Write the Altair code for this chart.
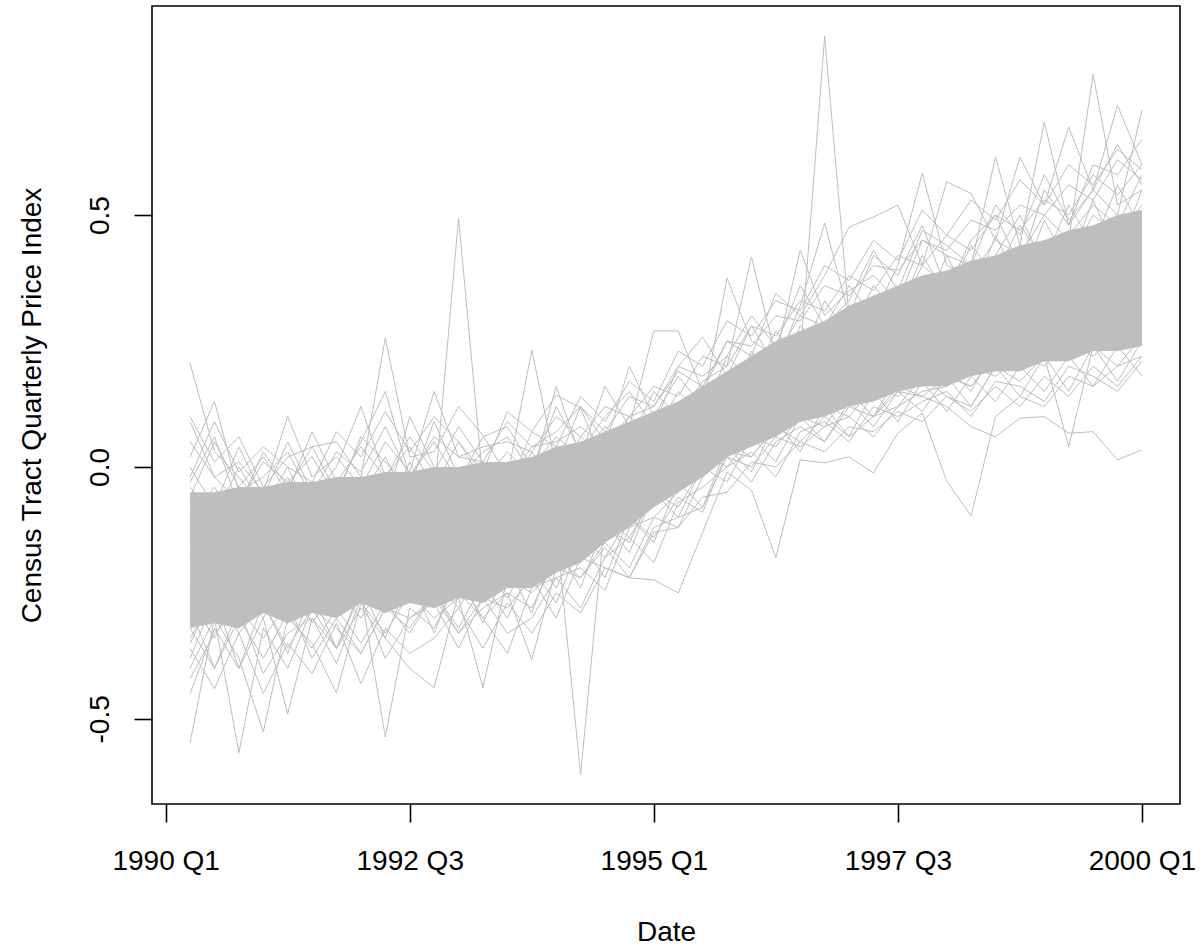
import altair as alt
import pandas as pd

# quarter index: 0 = 1990 Q1 ... 40 = 2000 Q1 ; series run 1990 Q2 .. 2000 Q1
quarters = list(range(1, 41))
tick_positions = [0, 10, 20, 30, 40]
tick_labels = ["1990 Q1", "1992 Q3", "1995 Q1", "1997 Q3", "2000 Q1"]
y_ticks = [-0.5, 0.0, 0.5]
y_labels = ["-0.5", "0.0", "0.5"]

# dense core of the bundle (where the many lines merge into solid grey)
core_lo = [-0.32, -0.31, -0.32, -0.29, -0.31, -0.29, -0.30, -0.27, -0.29, -0.27,
           -0.28, -0.26, -0.27, -0.24, -0.24, -0.21, -0.19, -0.15, -0.12, -0.08,
           -0.05, -0.02, 0.02, 0.04, 0.06, 0.09, 0.10, 0.12, 0.13, 0.15,
           0.16, 0.16, 0.18, 0.19, 0.19, 0.21, 0.21, 0.23, 0.23, 0.24]
core_hi = [-0.05, -0.05, -0.04, -0.04, -0.03, -0.03, -0.02, -0.02, -0.01, -0.01,
           0.00, 0.00, 0.01, 0.01, 0.02, 0.04, 0.05, 0.07, 0.09, 0.11,
           0.13, 0.16, 0.19, 0.22, 0.25, 0.27, 0.29, 0.32, 0.34, 0.36,
           0.38, 0.39, 0.41, 0.42, 0.44, 0.45, 0.47, 0.48, 0.50, 0.51]

U1 = [0.02, 0.13, -0.05, -0.02, 0.03, -0.06, 0.00, 0.12, -0.02, 0.04,
      -0.04, 0.05, -0.03, 0.03, -0.02, 0.16, 0.02, 0.08, 0.05, 0.15,
      0.10, 0.17, 0.20, 0.417, 0.22, 0.30, 0.28, 0.36, 0.30, 0.40,
      0.583, 0.40, 0.38, 0.45, 0.42, 0.50, 0.45, 0.78, 0.52, 0.55]
U2 = [0.09, -0.02, 0.01, -0.05, 0.10, -0.02, 0.02, -0.04, 0.05, -0.01,
      0.15, 0.02, 0.01, -0.03, 0.04, 0.05, 0.08, 0.04, 0.20, 0.10,
      0.18, 0.12, 0.375, 0.25, 0.22, 0.43, 0.30, 0.35, 0.38, 0.33,
      0.45, 0.42, 0.40, 0.615, 0.44, 0.685, 0.48, 0.55, 0.50, 0.708]
U3 = [-0.03, 0.06, -0.08, 0.03, -0.04, 0.04, -0.05, 0.05, 0.15, -0.02,
      0.05, -0.03, 0.06, 0.08, 0.00, 0.06, 0.02, 0.16, 0.08, 0.27,
      0.27, 0.15, 0.25, 0.22, 0.345, 0.30, 0.38, 0.476, 0.496, 0.52,
      0.40, 0.566, 0.543, 0.45, 0.615, 0.52, 0.675, 0.55, 0.718, 0.60]
U4 = [-0.10, -0.04, -0.12, -0.06, -0.10, -0.05, -0.09, -0.03, -0.08, -0.02,
      -0.06, 0.494, -0.03, -0.02, -0.06, 0.02, -0.02, 0.04, 0.00, 0.08,
      0.05, 0.12, 0.10, 0.18, 0.15, 0.22, 0.20, 0.28, 0.25, 0.33,
      0.30, 0.35, 0.32, 0.40, 0.36, 0.45, 0.40, 0.47, 0.44, 0.50]
U5 = [-0.14, -0.08, -0.16, -0.10, -0.13, -0.07, -0.12, -0.08, -0.11, -0.05,
      -0.10, -0.06, -0.10, -0.04, -0.08, -0.02, -0.05, 0.01, -0.01, 0.06,
      0.04, 0.10, 0.14, 0.16, 0.20, 0.22, 0.855, 0.30, 0.28, 0.35,
      0.32, 0.38, 0.33, 0.42, 0.38, 0.45, 0.41, 0.50, 0.46, 0.52]
U6 = [0.10, 0.01, 0.06, -0.04, 0.02, 0.04, 0.05, -0.02, 0.256, 0.02,
      0.03, 0.12, 0.063, -0.02, 0.232, 0.00, 0.12, 0.05, 0.10, 0.12,
      0.20, 0.258, 0.18, 0.28, 0.20, 0.32, 0.484, 0.30, 0.42, 0.38,
      0.48, 0.35, 0.45, 0.50, 0.40, 0.55, 0.48, 0.60, 0.58, 0.65]
U7 = [0.206, 0.03, -0.02, -0.08, 0.00, -0.10, -0.04, -0.02, -0.08, 0.10,
      0.00, -0.05, 0.01, -0.05, 0.07, 0.143, 0.117, 0.00, 0.06, 0.03,
      0.12, 0.08, 0.18, 0.20, 0.16, 0.28, 0.24, 0.30, 0.34, 0.30,
      0.40, 0.36, 0.34, 0.42, 0.50, 0.40, 0.46, 0.52, 0.48, 0.58]
L1 = [-0.548, -0.30, -0.567, -0.32, -0.40, -0.28, -0.36, -0.25, -0.536, -0.28,
      -0.32, -0.22, -0.30, -0.25, -0.28, -0.18, -0.22, -0.15, -0.20, -0.10,
      -0.12, -0.02, 0.02, -0.03, 0.05, 0.08, 0.05, 0.12, 0.10, 0.15,
      0.14, 0.18, 0.16, 0.22, 0.20, 0.26, 0.22, 0.28, 0.25, 0.30]
L2 = [-0.40, -0.30, -0.38, -0.526, -0.30, -0.35, -0.449, -0.27, -0.33, -0.25,
      -0.30, -0.26, -0.438, -0.22, -0.25, -0.20, -0.18, -0.12, -0.15, -0.05,
      -0.08, 0.00, 0.05, 0.02, 0.08, 0.10, 0.08, 0.15, 0.10, 0.18,
      0.16, 0.20, 0.15, 0.24, 0.22, 0.26, 0.25, 0.30, 0.26, 0.32]
L3 = [-0.45, -0.32, -0.40, -0.30, -0.49, -0.30, -0.36, -0.28, -0.34, -0.40,
      -0.438, -0.25, -0.30, -0.37, -0.24, -0.22, -0.20, -0.245, -0.12, -0.10,
      -0.05, 0.03, 0.00, 0.06, 0.04, 0.10, 0.12, 0.10, 0.16, 0.14,
      0.20, 0.18, 0.16, 0.22, 0.26, 0.24, 0.28, 0.27, 0.30, 0.28]
L4 = [-0.30, -0.22, -0.32, -0.25, -0.28, -0.20, -0.26, -0.21, -0.25, -0.18,
      -0.23, -0.17, -0.22, -0.16, -0.20, -0.12, -0.611, -0.10, -0.08, -0.02,
      -0.04, 0.05, 0.08, 0.10, 0.12, 0.16, 0.15, 0.20, 0.18, 0.24,
      0.22, 0.26, 0.24, 0.30, 0.28, 0.32, 0.30, 0.36, 0.33, 0.38]
L5 = [-0.35, -0.25, -0.33, -0.27, -0.36, -0.28, -0.32, -0.37, -0.28, -0.30,
      -0.26, -0.33, -0.28, -0.25, -0.383, -0.20, -0.22, -0.16, -0.22, -0.224,
      -0.25, -0.13, -0.01, -0.046, -0.18, 0.014, 0.008, 0.02, -0.012, 0.067,
      0.107, -0.028, -0.097, 0.10, 0.14, 0.12, 0.18, 0.16, 0.20, 0.22]
L6 = [-0.28, -0.20, -0.27, -0.22, -0.25, -0.18, -0.24, -0.19, -0.23, -0.16,
      -0.20, -0.14, -0.19, -0.13, -0.16, -0.10, -0.12, -0.06, -0.08, 0.00,
      -0.02, 0.05, 0.04, 0.10, 0.08, 0.12, 0.10, 0.15, 0.10, 0.16,
      0.14, 0.12, 0.08, 0.06, 0.097, 0.10, 0.067, 0.07, 0.014, 0.034]
L7 = [-0.32, -0.40, -0.28, -0.34, -0.27, -0.38, -0.30, -0.37, -0.28, -0.32,
      -0.25, -0.33, -0.26, -0.28, -0.22, -0.30, -0.18, -0.20, -0.22, -0.12,
      -0.10, -0.08, 0.02, 0.00, 0.06, 0.04, 0.08, 0.10, 0.06, 0.12,
      0.18, 0.14, 0.12, 0.20, 0.17, 0.22, 0.04, 0.24, 0.20, 0.26]
L8 = [-0.26, -0.34, -0.24, -0.30, -0.22, -0.31, -0.24, -0.30, -0.22, -0.27,
      -0.22, -0.28, -0.20, -0.26, -0.17, -0.24, -0.14, -0.18, -0.10, -0.14,
      -0.06, -0.09, 0.03, 0.02, 0.08, 0.05, 0.10, 0.06, 0.10, 0.12,
      0.15, 0.16, 0.20, 0.18, 0.22, 0.20, 0.25, 0.22, 0.26, 0.24]
M1 = [-0.12, -0.22, -0.10, -0.20, -0.09, -0.21, -0.08, -0.18, -0.06, -0.17,
      -0.07, -0.16, -0.05, -0.15, -0.03, -0.12, 0.00, -0.08, 0.04, -0.02,
      0.08, 0.02, 0.14, 0.08, 0.20, 0.12, 0.25, 0.17, 0.30, 0.21,
      0.33, 0.24, 0.35, 0.26, 0.39, 0.28, 0.41, 0.31, 0.44, 0.33]
M2 = [-0.25, -0.11, -0.26, -0.10, -0.24, -0.09, -0.23, -0.07, -0.22, -0.06,
      -0.21, -0.05, -0.20, -0.04, -0.18, -0.02, -0.14, 0.02, -0.09, 0.06,
      -0.03, 0.12, 0.03, 0.18, 0.08, 0.24, 0.13, 0.28, 0.17, 0.32,
      0.20, 0.35, 0.22, 0.37, 0.25, 0.40, 0.27, 0.43, 0.30, 0.46]
M3 = [-0.04, -0.10, 0.00, -0.08, -0.02, -0.11, -0.03, -0.06, 0.02, -0.08,
      -0.02, -0.06, 0.01, -0.07, 0.03, -0.03, 0.06, 0.02, 0.10, 0.06,
      0.15, 0.10, 0.22, 0.17, 0.27, 0.21, 0.33, 0.26, 0.36, 0.30,
      0.42, 0.34, 0.44, 0.38, 0.48, 0.41, 0.52, 0.44, 0.56, 0.47]
M4 = [-0.34, -0.26, -0.30, -0.22, -0.31, -0.24, -0.28, -0.20, -0.29, -0.22,
      -0.28, -0.20, -0.26, -0.19, -0.24, -0.15, -0.18, -0.10, -0.14, -0.06,
      -0.01, 0.00, 0.04, 0.06, 0.10, 0.09, 0.14, 0.13, 0.17, 0.16,
      0.21, 0.19, 0.22, 0.21, 0.25, 0.23, 0.27, 0.25, 0.29, 0.27]
M5 = [-0.18, -0.28, -0.14, -0.26, -0.15, -0.25, -0.12, -0.24, -0.13, -0.22,
      -0.10, -0.20, -0.09, -0.18, -0.07, -0.14, -0.03, -0.10, 0.00, -0.04,
      0.06, 0.03, 0.12, 0.09, 0.17, 0.13, 0.22, 0.16, 0.26, 0.20,
      0.30, 0.23, 0.32, 0.25, 0.35, 0.27, 0.38, 0.29, 0.41, 0.31]
M6 = [-0.07, -0.16, -0.05, -0.14, -0.06, -0.03, -0.12, -0.02, -0.10, 0.01,
      -0.09, 0.00, -0.08, 0.01, -0.06, 0.04, -0.02, 0.07, 0.02, 0.11,
      0.06, 0.16, 0.11, 0.23, 0.16, 0.27, 0.20, 0.32, 0.26, 0.36,
      0.30, 0.42, 0.33, 0.46, 0.36, 0.49, 0.40, 0.53, 0.42, 0.55]
E1 = [0.00, -0.08, 0.04, -0.06, 0.05, -0.05, 0.03, -0.01, 0.08, -0.02,
      0.06, 0.02, 0.04, 0.05, 0.03, 0.10, 0.06, 0.12, 0.10, 0.16,
      0.14, 0.22, 0.20, 0.28, 0.26, 0.33, 0.31, 0.38, 0.35, 0.42,
      0.40, 0.46, 0.43, 0.50, 0.47, 0.53, 0.50, 0.58, 0.54, 0.60]
E2 = [-0.06, 0.05, -0.04, 0.02, -0.05, 0.07, -0.03, 0.04, -0.02, 0.06,
      -0.01, 0.08, 0.01, 0.09, 0.04, 0.07, 0.12, 0.07, 0.14, 0.12,
      0.19, 0.16, 0.25, 0.24, 0.30, 0.29, 0.36, 0.34, 0.40, 0.39,
      0.45, 0.43, 0.49, 0.47, 0.52, 0.50, 0.56, 0.53, 0.61, 0.57]
E3 = [-0.38, -0.26, -0.40, -0.27, -0.37, -0.25, -0.36, -0.24, -0.34, -0.22,
      -0.33, -0.21, -0.31, -0.20, -0.29, -0.16, -0.24, -0.11, -0.17, -0.05,
      -0.10, 0.00, -0.03, 0.06, 0.01, 0.10, 0.05, 0.13, 0.08, 0.15,
      0.11, 0.18, 0.12, 0.20, 0.14, 0.22, 0.15, 0.24, 0.17, 0.25]
E4 = [-0.28, -0.40, -0.30, -0.38, -0.29, -0.36, -0.28, -0.35, -0.27, -0.33,
      -0.25, -0.32, -0.23, -0.30, -0.20, -0.27, -0.15, -0.22, -0.10, -0.15,
      -0.03, -0.08, 0.04, -0.01, 0.09, 0.03, 0.12, 0.06, 0.15, 0.09,
      0.17, 0.11, 0.18, 0.13, 0.20, 0.15, 0.22, 0.16, 0.24, 0.18]
E5 = [0.05, -0.02, -0.07, 0.01, -0.03, 0.02, -0.06, 0.06, 0.01, -0.04,
      0.09, -0.02, 0.03, 0.06, -0.01, 0.12, 0.03, 0.10, 0.15, 0.08,
      0.20, 0.18, 0.22, 0.30, 0.24, 0.36, 0.28, 0.33, 0.43, 0.35,
      0.47, 0.44, 0.40, 0.52, 0.46, 0.58, 0.49, 0.55, 0.64, 0.56]
E6 = [-0.42, -0.33, -0.28, -0.41, -0.33, -0.30, -0.39, -0.26, -0.38, -0.30,
      -0.27, -0.36, -0.26, -0.33, -0.30, -0.22, -0.28, -0.18, -0.14, -0.19,
      -0.07, -0.04, 0.00, 0.03, -0.02, 0.07, 0.09, 0.05, 0.12, 0.10,
      0.13, 0.15, 0.10, 0.17, 0.16, 0.13, 0.20, 0.18, 0.15, 0.21]
E7 = [-0.02, 0.09, -0.01, 0.04, 0.00, -0.03, 0.07, 0.02, 0.11, 0.03,
      0.10, 0.05, -0.01, 0.11, 0.07, 0.04, 0.14, 0.09, 0.17, 0.13,
      0.23, 0.20, 0.29, 0.26, 0.33, 0.31, 0.40, 0.37, 0.45, 0.41,
      0.51, 0.46, 0.53, 0.49, 0.57, 0.52, 0.60, 0.56, 0.63, 0.59]
E8 = [-0.36, -0.44, -0.33, -0.45, -0.35, -0.41, -0.31, -0.43, -0.32, -0.37,
      -0.34, -0.28, -0.36, -0.27, -0.33, -0.25, -0.29, -0.20, -0.22, -0.13,
      -0.12, -0.06, -0.05, 0.01, 0.00, 0.05, 0.03, 0.08, 0.07, 0.11,
      0.09, 0.14, 0.11, 0.16, 0.12, 0.18, 0.14, 0.20, 0.16, 0.22]

series = {"U1": U1, "U2": U2, "U3": U3, "U4": U4, "U5": U5, "U6": U6, "U7": U7,
          "L1": L1, "L2": L2, "L3": L3, "L4": L4, "L5": L5, "L6": L6, "L7": L7, "L8": L8,
          "M1": M1, "M2": M2, "M3": M3, "M4": M4, "M5": M5, "M6": M6,
          "E1": E1, "E2": E2, "E3": E3, "E4": E4, "E5": E5, "E6": E6, "E7": E7, "E8": E8}

rows = []
for name, vals in series.items():
    assert len(vals) == len(quarters), name
    for q, v in zip(quarters, vals):
        rows.append({"tract": name, "q": q, "value": v})
lines_df = pd.DataFrame(rows)
core_df = pd.DataFrame({"q": quarters, "lo": core_lo, "hi": core_hi})

GREY = "#BEBEBE"
FONT = "Liberation Sans"
W, H = 1028, 798


def ternary(vals, labels):
    expr = "''"
    for v, lab in reversed(list(zip(vals, labels))):
        expr = f"(abs(datum.value - ({v})) < 1e-6 ? '{lab}' : {expr})"
    return expr


x_scale = alt.Scale(domain=[-0.56, 41.56], nice=False, zero=False)
y_scale = alt.Scale(domain=[-0.669, 0.915], nice=False, zero=False)

x_axis = alt.Axis(values=tick_positions, labelExpr=ternary(tick_positions, tick_labels),
                  title="Date", grid=False, domain=False, tickColor="black", tickWidth=1.6,
                  tickSize=18, labelFont=FONT, labelFontSize=28, labelColor="black",
                  labelBaseline="alphabetic", labelAlign="center", labelPadding=47,
                  labelFlush=False, labelOverlap=False, labelBound=False,
                  titleFont=FONT, titleFontSize=28, titleFontWeight="normal", titleColor="black",
                  titleX=W / 2, titleY=136, titleBaseline="alphabetic", titleAlign="center")
y_axis = alt.Axis(values=y_ticks, labelExpr=ternary(y_ticks, y_labels),
                  title="Census Tract Quarterly Price Index", grid=False, domain=False,
                  tickColor="black", tickWidth=1.6, tickSize=18, labelFont=FONT,
                  labelFontSize=28, labelColor="black", labelAngle=270, labelAlign="center",
                  labelBaseline="alphabetic", labelPadding=26, labelFlush=False,
                  labelOverlap=False, labelBound=False,
                  titleFont=FONT, titleFontSize=28, titleFontWeight="normal", titleColor="black",
                  titleAngle=270, titleX=-112, titleY=H / 2, titleBaseline="alphabetic",
                  titleAlign="center")

core = alt.Chart(core_df).mark_area(color=GREY, opacity=1).encode(
    x=alt.X("q:Q", scale=x_scale, axis=x_axis),
    y=alt.Y("lo:Q", scale=y_scale, axis=y_axis),
    y2="hi:Q",
)

lines = alt.Chart(lines_df).mark_line(color=GREY, strokeWidth=1).encode(
    x=alt.X("q:Q", scale=x_scale, axis=x_axis),
    y=alt.Y("value:Q", scale=y_scale, axis=y_axis),
    detail="tract:N",
    order="q:Q",
)

chart = alt.layer(core, lines).properties(
    width=W, height=H,
    autosize=alt.AutoSizeParams(type="none"),
    padding={"left": 152, "top": 6, "right": 23, "bottom": 143},
    background="white",
).configure_view(stroke="black", strokeWidth=1.6)

chart.save("out.html", embed_options={"renderer": "svg", "actions": False})
